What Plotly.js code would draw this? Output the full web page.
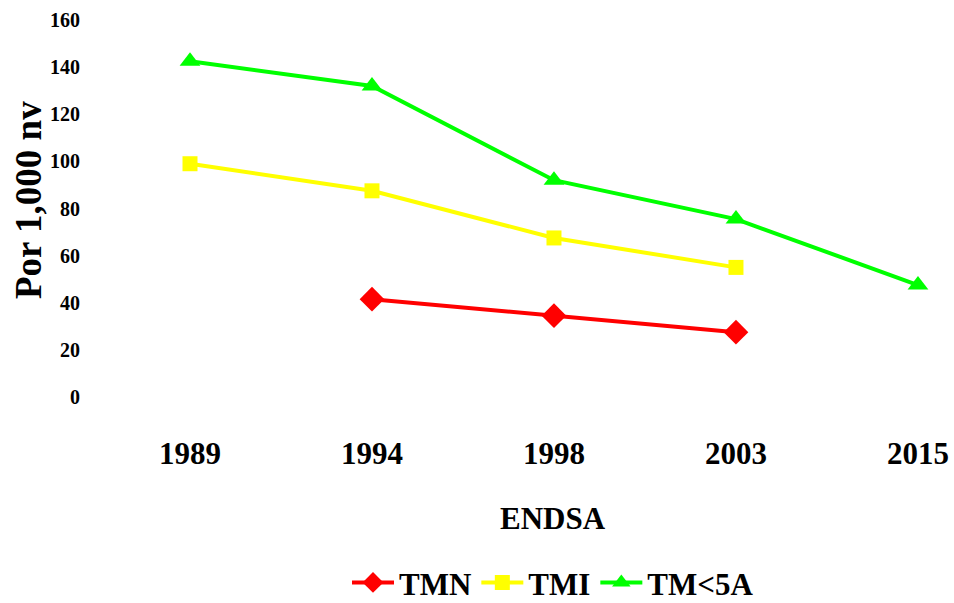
<!DOCTYPE html>
<html><head><meta charset="utf-8">
<script src="https://cdn.plot.ly/plotly-3.0.1.min.js"></script>
<style>body{margin:0;background:#fff}#c{width:954px;height:603px}
.legendtext{font-family:"Liberation Serif","Times New Roman",serif !important;font-weight:bold !important;}
</style>
</head><body><div id="c"></div>
<script>
var years = ["1989", "1994", "1998", "2003", "2015"];
var tmn = [null, 41.5, 34.5, 27.5, null];
var tmi = [99, 87.5, 67.5, 55, null];
var tm5 = [142.5, 132, 92, 75.5, 47.5];
var yTicks = [0, 20, 40, 60, 80, 100, 120, 140, 160];

var F = "Liberation Serif, Times New Roman, serif";
function tr(name, y, color, sym, size) {
  return {x: years, y: y, name: "<b>" + name + "</b>", type: 'scatter', mode: 'lines+markers',
    line: {color: color, width: 4}, marker: {symbol: sym, size: size, color: color},
    connectgaps: false, cliponaxis: false};
}
var data = [
  tr("TMN", tmn, "#ff0000", "diamond", 19),
  tr("TMI", tmi, "#ffff00", "square", 15),
  tr("TM&lt;5A", tm5, "#00ff00", "triangle-up", 18)
];
var layout = {
  width: 954, height: 603,
  margin: {l: 99, r: 0, t: 10, b: 183, autoexpand: false},
  paper_bgcolor: "#fff", plot_bgcolor: "#fff",
  font: {family: F, color: "#000"},
  showlegend: true,
  legend: {orientation: "h", x: 0.531, xanchor: "center", y: -0.397, yanchor: "middle",
    font: {size: 31, family: F, color: "#000"}, tracegroupgap: 0, itemwidth: 42},
  xaxis: {type: "category", range: [-0.5, 4.198], showgrid: false, zeroline: false, showline: false,
    ticks: "outside", ticklen: 6, tickcolor: "rgba(0,0,0,0)",
    tickvals: years, ticktext: years.map(function(s){return "<b>" + s + "</b>";}),
    tickfont: {size: 31, family: F}, fixedrange: true},
  yaxis: {range: [-9.76, 164.24], tickvals: yTicks, ticktext: yTicks.map(function(v){return "<b>" + v + "</b>";}),
    showgrid: false, zeroline: false, showline: false,
    ticks: "outside", ticklen: 14, tickcolor: "rgba(0,0,0,0)",
    tickfont: {size: 20, family: F}},
  annotations: [
    {text: "<b>Por 1,000 nv</b>", xref: "paper", yref: "paper", x: -71/855, y: (420-200)/410,
     xanchor: "center", yanchor: "middle", textangle: -90, showarrow: false,
     font: {size: 37, family: F}},
    {text: "<b>ENDSA</b>", xref: "paper", yref: "paper", x: (553-99)/855, y: (420-518)/410,
     xanchor: "center", yanchor: "middle", showarrow: false,
     font: {size: 31, family: F}}
  ]
};
Plotly.newPlot("c", data, layout, {displayModeBar: false, staticPlot: true});
</script></body></html>
